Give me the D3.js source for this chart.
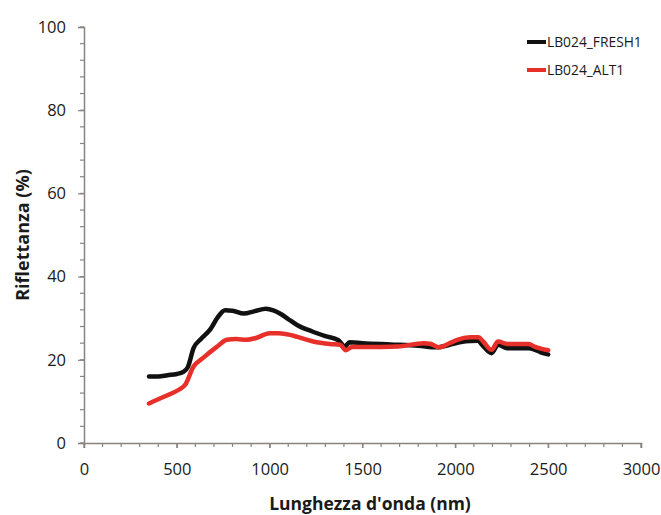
<!DOCTYPE html>
<html>
<head>
<meta charset="utf-8">
<script src="https://cdn.jsdelivr.net/npm/d3@7"></script>
<style>
  html, body { margin: 0; padding: 0; background: #fff; }
  svg { display: block; }
  text { font-family: "Open Sans", "Liberation Sans", sans-serif; fill: #1a1a1a; }
</style>
</head>
<body>
<svg id="chart" width="661" height="515"></svg>
<script>
// Reflectance spectra (wavelength in nm, reflectance in %)
const freshWl  = [350, 400, 450, 500, 535, 560, 590, 630, 680, 720, 760, 800, 860, 920, 980, 1020, 1060, 1100, 1150, 1230, 1300, 1370, 1405, 1430, 1500, 1650, 1800, 1900, 1970, 2010, 2080, 2120, 2150, 2195, 2230, 2280, 2330, 2395, 2430, 2460, 2500];
const freshVal = [16.0, 16.0, 16.3, 16.6, 17.1, 18.3, 22.8, 25.0, 27.3, 30.2, 31.9, 31.8, 31.1, 31.7, 32.3, 31.9, 31.0, 29.8, 28.3, 26.8, 25.7, 24.7, 23.2, 24.2, 24.0, 23.7, 23.4, 23.0, 23.6, 24.1, 24.5, 24.6, 23.3, 21.6, 23.6, 22.8, 22.8, 22.8, 22.4, 21.8, 21.3];

const altWl  = [350, 430, 510, 545, 590, 640, 715, 770, 820, 875, 930, 1000, 1050, 1110, 1150, 1235, 1325, 1380, 1410, 1445, 1600, 1690, 1830, 1870, 1910, 1970, 2010, 2080, 2125, 2150, 2195, 2230, 2280, 2330, 2395, 2430, 2460, 2500];
const altVal = [9.5, 11.1, 12.8, 14.0, 18.4, 20.4, 23.1, 24.8, 25.0, 24.8, 25.3, 26.4, 26.4, 26.0, 25.5, 24.4, 23.8, 23.6, 22.3, 23.1, 23.1, 23.2, 24.0, 23.8, 23.0, 24.0, 24.8, 25.4, 25.4, 24.4, 22.4, 24.4, 23.8, 23.8, 23.8, 23.1, 22.7, 22.3];

const seriesNames  = ["LB024_FRESH1", "LB024_ALT1"];
const seriesColors = ["#111111", "#e8302a"];

const xTicks = [0, 500, 1000, 1500, 2000, 2500, 3000];
const yTicks = [0, 20, 40, 60, 80, 100];

const svg = d3.select("#chart");
const axisColor = "#8a8480";

const x = d3.scaleLinear().domain([0, 3000]).range([84, 641]);
const y = d3.scaleLinear().domain([0, 100]).range([443, 27]);

// minor ticks
const gMinor = svg.append("g");
gMinor.selectAll("line.xm").data(d3.range(0, 3001, 100)).join("line")
  .attr("x1", d => x(d)).attr("x2", d => x(d))
  .attr("y1", y(0)).attr("y2", d => y(0) + (d % 500 === 0 ? 5 : 4))
  .attr("stroke", axisColor).attr("stroke-width", 1.2);
gMinor.selectAll("line.ym").data(d3.range(0, 101, 4)).join("line")
  .attr("y1", d => y(d)).attr("y2", d => y(d))
  .attr("x1", x(0)).attr("x2", x(0) - 4)
  .attr("stroke", axisColor).attr("stroke-width", 1.2);

// x axis
const xAxis = svg.append("g")
  .attr("transform", `translate(0,${y(0)})`)
  .call(d3.axisBottom(x).tickValues(xTicks).tickFormat(d3.format("d")).tickSize(5).tickPadding(15));
// y axis
const yAxis = svg.append("g")
  .attr("transform", `translate(${x(0)},0)`)
  .call(d3.axisLeft(y).tickValues(yTicks).tickSize(6).tickPadding(12));

[xAxis, yAxis].forEach(g => {
  g.select(".domain").attr("stroke", axisColor).attr("stroke-width", 1.5);
  g.selectAll(".tick line").attr("stroke", axisColor).attr("stroke-width", 1.2);
  g.selectAll(".tick text")
    .attr("fill", "#1a1a1a")
    .style("font-family", "'Open Sans', sans-serif")
    .style("font-size", "16.5px");
});

// axis titles
svg.append("text")
  .attr("x", 370).attr("y", 510)
  .attr("text-anchor", "middle")
  .style("font-size", "17.5px").style("font-weight", "bold")
  .text("Lunghezza d'onda (nm)");
svg.append("text")
  .attr("transform", "translate(29,235) rotate(-90)")
  .attr("text-anchor", "middle")
  .style("font-size", "18px").style("font-weight", "bold")
  .text("Riflettanza (%)");

// spectra
const line = d3.line()
  .x(d => x(d[0]))
  .y(d => y(d[1]))
  .curve(d3.curveMonotoneX);

const series = [
  { name: seriesNames[0], color: seriesColors[0], pts: d3.zip(freshWl, freshVal) },
  { name: seriesNames[1], color: seriesColors[1], pts: d3.zip(altWl, altVal) }
];

svg.append("g").selectAll("path").data(series).join("path")
  .attr("d", d => line(d.pts))
  .attr("fill", "none")
  .attr("stroke", d => d.color)
  .attr("stroke-width", 4.5)
  .attr("stroke-linejoin", "round")
  .attr("stroke-linecap", "round");

// legend
const legend = svg.append("g").selectAll("g").data(series).join("g")
  .attr("transform", (d, i) => `translate(527,${42 + i * 28})`);
legend.append("line")
  .attr("x1", 0).attr("x2", 19).attr("y1", 0).attr("y2", 0)
  .attr("stroke", d => d.color).attr("stroke-width", 4);
legend.append("text")
  .attr("x", 20).attr("y", 0).attr("dy", "0.35em")
  .style("font-size", "13.8px")
  .text(d => d.name);
</script>
</body>
</html>
